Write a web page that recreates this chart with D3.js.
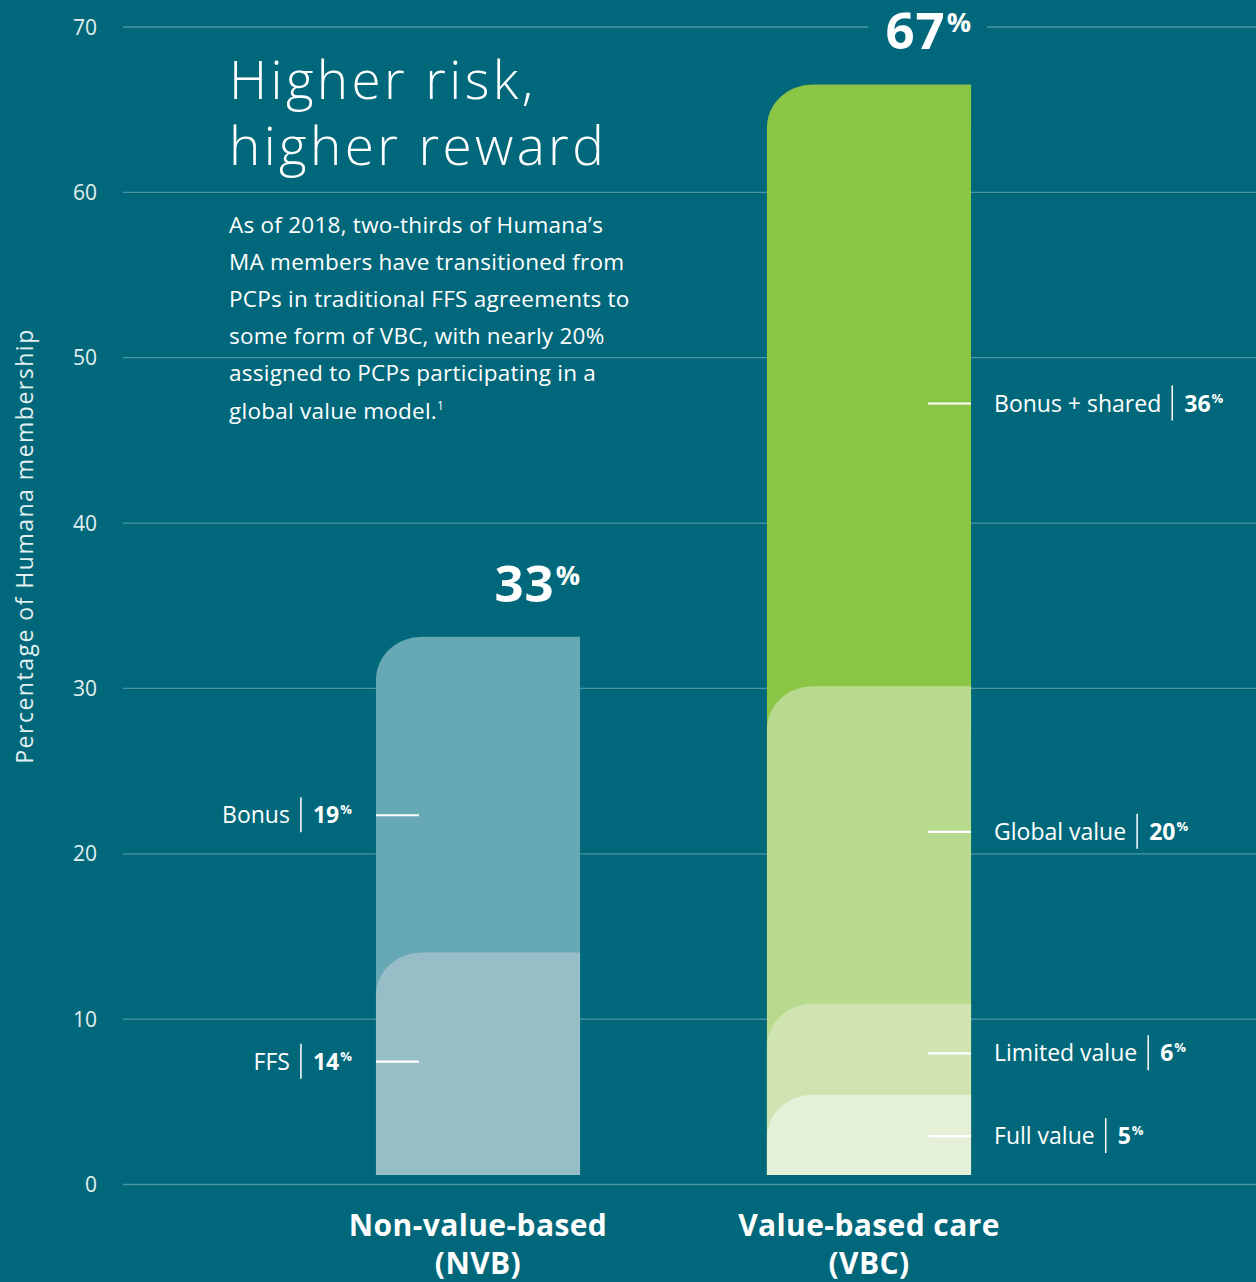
<!DOCTYPE html>
<html>
<head>
<meta charset="utf-8">
<script src="https://cdn.jsdelivr.net/npm/d3@7"></script>
<style>
  html, body { margin: 0; padding: 0; background: #00687a; }
  svg { display: block; }
  text { font-family: "Open Sans", "Noto Sans", sans-serif; }
</style>
</head>
<body>
<svg id="chart" width="1256" height="1282"></svg>
<script>
// ---------------- DATA ----------------
const categories = ["NVB", "VBC"];
const categoryLines = [["Non-value-based", "(NVB)"], ["Value-based care", "(VBC)"]];
const totalLabels = ["33", "67"];

const nvbSegments = ["FFS", "Bonus"];
const nvbValues = [14.0, 19.1];
const nvbValueLabels = ["14", "19"];
const nvbLabelAt = [7.4, 22.3];

const vbcSegments = ["Full value", "Limited value", "Global value", "Bonus + shared"];
const vbcValues = [5.4, 5.5, 19.2, 36.4];
const vbcValueLabels = ["5", "6", "20", "36"];
const vbcLabelAt = [2.9, 7.9, 21.3, 47.2];

const yTicks = [0, 10, 20, 30, 40, 50, 60, 70];
const yTitle = "Percentage of Humana membership";
const title = ["Higher risk,", "higher reward"];
const bodyLines = [
  "As of 2018, two-thirds of Humana\u2019s",
  "MA members have transitioned from",
  "PCPs in traditional FFS agreements to",
  "some form of VBC, with nearly 20%",
  "assigned to PCPs participating in a",
  "global value model."
];

// ---------------- STYLE ----------------
const BG = "#00687a";
const GRID = "#4c95a2";
const nvbColors = ["#97bec7", "#66a8b4"];
const vbcColors = ["#e4f0d8", "#cfe4b0", "#b8da8f", "#8bc546"];

const svg = d3.select("#chart");
const W = 1256, H = 1282;
svg.append("rect").attr("width", W).attr("height", H).attr("fill", BG);

const plotLeft = 123, plotRight = 1256;
const y = d3.scaleLinear().domain([0, 70]).range([1184, 26.5]);
const x = d3.scaleBand().domain(categories).range([plotLeft, 1224])
  .paddingInner(0.478).paddingOuter(0.647);

// Axis with gridlines
const axis = d3.axisLeft(y).tickValues(yTicks).tickSize(-(plotRight - plotLeft)).tickPadding(26);
const gAxis = svg.append("g").attr("transform", `translate(${plotLeft},0)`).call(axis);
gAxis.select(".domain").remove();
gAxis.selectAll(".tick line").attr("stroke", GRID).attr("stroke-width", 1.3);
gAxis.selectAll(".tick text")
  .attr("fill", "#e3eff1").attr("font-size", 21).attr("font-family", "'Open Sans', sans-serif")
  .attr("dy", "0.36em");

// Axis title
svg.append("text")
  .attr("transform", `translate(33,${546}) rotate(-90)`)
  .attr("text-anchor", "middle")
  .attr("fill", "#e3eff1").attr("font-size", 23)
  .attr("letter-spacing", 1.5)
  .text(yTitle);

// Title
svg.append("g").selectAll("text").data(title).join("text")
  .attr("x", 229).attr("y", (d, i) => 99 + i * 66)
  .attr("fill", "#ffffff").attr("font-size", 53).attr("font-weight", 300)
  .attr("letter-spacing", 3.4)
  .text(d => d);

// Body text
const body = svg.append("g");
bodyLines.forEach((line, i) => {
  const t = body.append("text")
    .attr("x", 229).attr("y", 233 + i * 37.1)
    .attr("fill", "#ffffff").attr("font-size", 22.5)
    .attr("letter-spacing", 0.25)
    .text(line);
  if (i === bodyLines.length - 1) {
    t.append("tspan").attr("font-size", 12).attr("dy", -9).text("1");
  }
});

// Bars
const bottomGap = 9;
const rx = 46, ry = 43;
function barPath(x0, w, top, bottom) {
  return `M${x0},${bottom} L${x0},${top + ry} A${rx},${ry} 0 0 1 ${x0 + rx},${top} L${x0 + w},${top} L${x0 + w},${bottom} Z`;
}

const bars = [
  { cat: "NVB", values: nvbValues, colors: nvbColors, names: nvbSegments, labels: nvbValueLabels, at: nvbLabelAt, side: "left", total: totalLabels[0] },
  { cat: "VBC", values: vbcValues, colors: vbcColors, names: vbcSegments, labels: vbcValueLabels, at: vbcLabelAt, side: "right", total: totalLabels[1] }
];

const bw = x.bandwidth();
bars.forEach(bar => {
  const x0 = x(bar.cat);
  const cum = d3.cumsum(bar.values);
  const segs = bar.values.map((v, i) => ({ top: cum[i], color: bar.colors[i] })).reverse();
  const g = svg.append("g");
  g.selectAll("path").data(segs).join("path")
    .attr("d", d => barPath(x0, bw, y(d.top), y(0) - bottomGap))
    .attr("fill", d => d.color);

  // total label
  const totalTop = y(cum[cum.length - 1]);
  const tg = svg.append("g");
  const pct = tg.append("text").attr("text-anchor", "end")
    .attr("x", x0 + bw).attr("y", totalTop - 35 - 17)
    .attr("fill", "#fff").attr("font-weight", 700).attr("font-size", 27).text("%");
  const pw = pct.node().getComputedTextLength();
  const num = tg.append("text").attr("text-anchor", "end")
    .attr("x", x0 + bw - pw - 1).attr("y", totalTop - 35)
    .attr("fill", "#fff").attr("font-weight", 700).attr("font-size", 51).attr("letter-spacing", 1)
    .text(bar.total);
  if (totalTop - 35 < y(70) + 30) {
    const nb = num.node().getBBox();
    const left = nb.x - 17, right = x0 + bw + 16;
    tg.insert("rect", "text").attr("x", left).attr("y", y(70) - 3).attr("width", right - left).attr("height", 6).attr("fill", BG);
  }

  // segment labels
  bar.names.forEach((name, i) => {
    const ly = y(bar.at[i]);
    const lg = svg.append("g");
    const tickX0 = bar.side === "left" ? x0 : x0 + bw - 43;
    lg.append("line").attr("x1", tickX0).attr("x2", tickX0 + 43)
      .attr("y1", ly).attr("y2", ly).attr("stroke", "#fff").attr("stroke-width", 2.2);
    const fs = 23;
    const tName = lg.append("text").attr("y", ly + 8).attr("fill", "#fff").attr("font-size", fs).text(name);
    const tVal = lg.append("text").attr("y", ly + 8).attr("fill", "#fff").attr("font-size", fs).attr("font-weight", 700).text(bar.labels[i]);
    const tPct = lg.append("text").attr("y", ly - 1).attr("fill", "#fff").attr("font-size", 13).attr("font-weight", 700).text("%");
    const wN = tName.node().getComputedTextLength();
    const wV = tVal.node().getComputedTextLength();
    const wP = tPct.node().getComputedTextLength();
    let nameX;
    if (bar.side === "left") {
      const endX = x0 - 24;
      const pctX = endX - wP;
      const valX = pctX - 1 - wV;
      const divX = valX - 12;
      nameX = divX - 11 - wN;
      tPct.attr("x", pctX); tVal.attr("x", valX);
      lg.append("line").attr("x1", divX).attr("x2", divX).attr("y1", ly - 18).attr("y2", ly + 17).attr("stroke", "#fff").attr("stroke-width", 1.5);
    } else {
      nameX = x0 + bw + 23;
      const divX = nameX + wN + 11;
      const valX = divX + 12;
      tVal.attr("x", valX); tPct.attr("x", valX + wV + 1);
      lg.append("line").attr("x1", divX).attr("x2", divX).attr("y1", ly - 18).attr("y2", ly + 17).attr("stroke", "#fff").attr("stroke-width", 1.5);
    }
    tName.attr("x", nameX);
  });
});

// Category labels
categories.forEach((c, i) => {
  svg.append("g").selectAll("text").data(categoryLines[i]).join("text")
    .attr("x", x(c) + bw / 2).attr("y", (d, j) => 1236 + j * 38)
    .attr("text-anchor", "middle").attr("fill", "#fff")
    .attr("font-size", 30).attr("font-weight", 700).attr("letter-spacing", 0.4)
    .text(d => d);
});
</script>
</body>
</html>
